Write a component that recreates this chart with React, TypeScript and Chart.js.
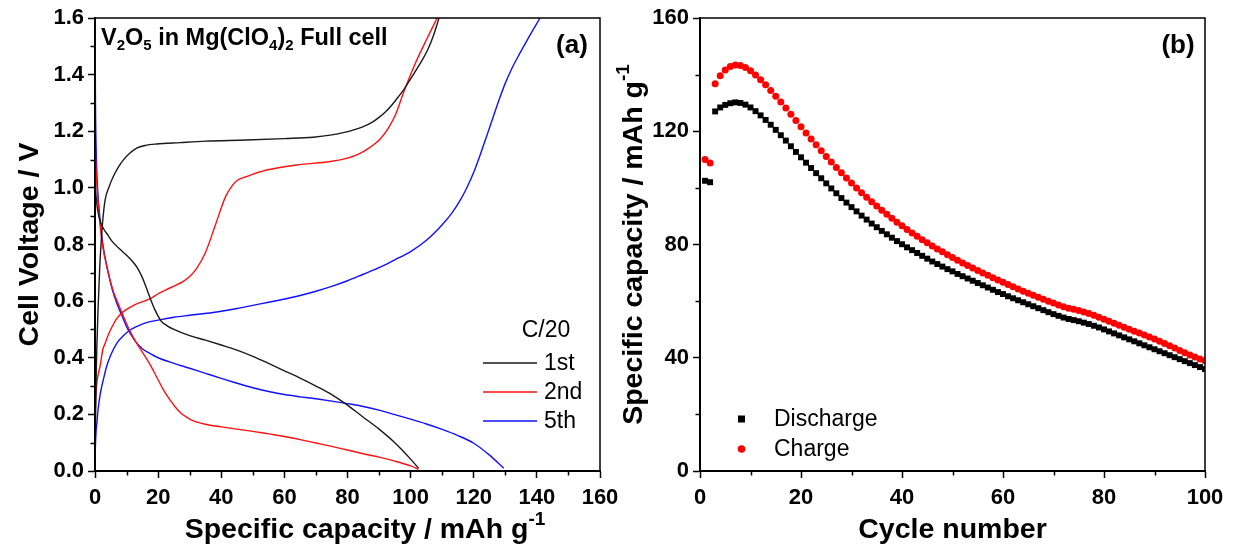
import React, { useEffect, useRef } from "react";
import { Chart, registerables } from "chart.js";

Chart.register(...registerables);

const FONT = '"Liberation Sans", Arial, Helvetica, sans-serif';

// ---------- Panel (a): voltage profiles  [capacity mAh/g, voltage V] ----------
const cycle1Charge: [number, number][] = [
  [0, 0.02], [0.2, 0.2], [0.4, 0.35], [1, 0.58], [1.5, 0.72], [2, 0.816], [2.5, 0.89], [3.2, 0.957],
  [4.5, 1.005], [5.8, 1.04], [7.5, 1.075], [9, 1.099], [11, 1.122], [13.2, 1.14], [16, 1.15],
  [19.5, 1.155], [26.9, 1.16], [35, 1.165], [48, 1.169], [60, 1.174], [69.2, 1.179], [75, 1.187],
  [79, 1.196], [82, 1.205], [85, 1.216], [88, 1.233], [90, 1.249], [92, 1.268], [94, 1.292],
  [96, 1.32], [98, 1.35], [100, 1.385], [102.8, 1.435], [105.3, 1.485], [107.3, 1.54], [109, 1.6],
];
const cycle1Discharge: [number, number][] = [
  [0, 1.02], [0.5, 0.95], [1.2, 0.9], [2.5, 0.86], [4, 0.835], [5.5, 0.81], [8, 0.782], [10.5, 0.757],
  [12.5, 0.732], [13.7, 0.712], [15, 0.683], [16, 0.655], [17, 0.625], [18, 0.595], [19, 0.569],
  [20, 0.547], [21, 0.529], [23, 0.512], [25, 0.5], [30, 0.478], [35, 0.462], [40, 0.445],
  [45, 0.427], [50, 0.405], [55, 0.38], [60, 0.354], [65, 0.328], [70, 0.3], [75, 0.27],
  [79.2, 0.239], [85, 0.19], [90, 0.148], [95, 0.1], [100, 0.042], [102.5, 0.01],
];
const cycle2Charge: [number, number][] = [
  [0, 0.15], [0.1, 0.215], [0.5, 0.3], [1, 0.34], [1.6, 0.37], [2.5, 0.43], [3.2, 0.45], [4, 0.475],
  [5.2, 0.505], [7, 0.54], [9, 0.563], [11, 0.577], [13.2, 0.59], [17.4, 0.608], [20, 0.626],
  [22.5, 0.64], [25, 0.653], [28, 0.67], [30, 0.687], [32, 0.712], [35, 0.772], [38.2, 0.871],
  [41.4, 0.97], [43.5, 1.008], [45, 1.026], [48, 1.04], [54.4, 1.063], [63.9, 1.081], [74.5, 1.093],
  [80, 1.105], [84, 1.122], [87, 1.142], [90.3, 1.172], [93, 1.212], [95.2, 1.258], [97.7, 1.335],
  [101.5, 1.44], [105.3, 1.53], [108.4, 1.6],
];
const cycle2Discharge: [number, number][] = [
  [0, 1.15], [0.4, 1.05], [0.9, 0.96], [1.6, 0.87], [2.5, 0.79], [4, 0.71], [5.5, 0.645], [7, 0.6],
  [8.5, 0.56], [10, 0.52], [11.5, 0.485], [13, 0.455], [15, 0.42], [17.5, 0.375], [19.5, 0.333],
  [21.5, 0.29], [23.8, 0.25], [25.5, 0.225], [27, 0.207], [29, 0.19], [31, 0.178], [35, 0.165],
  [40, 0.156], [45, 0.148], [50, 0.14], [55, 0.131], [60, 0.122], [65, 0.111], [70, 0.099],
  [75, 0.087], [80, 0.074], [85, 0.061], [90, 0.049], [95, 0.035], [100, 0.018], [102.5, 0.006],
];
const cycle5Charge: [number, number][] = [
  [0, 0.05], [0.3, 0.133], [0.6, 0.17], [1, 0.22], [1.8, 0.28], [2.8, 0.33], [3.7, 0.37], [5, 0.41],
  [6.9, 0.451], [9, 0.478], [11.1, 0.498], [13.5, 0.512], [16.3, 0.524], [20, 0.533], [25, 0.543],
  [30, 0.55], [37.4, 0.56], [45, 0.574], [50, 0.585], [58.6, 0.604], [65, 0.62], [70, 0.635],
  [75, 0.652], [80, 0.672], [85, 0.695], [90, 0.718], [95, 0.746], [100, 0.775], [105, 0.815],
  [110, 0.87], [113, 0.91], [116, 0.962], [118, 1.005], [120, 1.055], [122, 1.115], [124, 1.18],
  [126, 1.245], [128, 1.31], [130, 1.37], [132, 1.42], [134, 1.463], [136, 1.503], [138, 1.543],
  [141, 1.6],
];
const cycle5Discharge: [number, number][] = [
  [0, 1.6], [0.15, 1.3], [0.4, 1.12], [0.8, 1.0], [1.5, 0.9], [2.5, 0.8], [4, 0.71], [5.5, 0.64],
  [7, 0.59], [8.5, 0.55], [10, 0.51], [11.5, 0.48], [13, 0.455], [15, 0.432], [17, 0.418], [20, 0.4],
  [25, 0.38], [30, 0.363], [35, 0.345], [40, 0.327], [45, 0.31], [50, 0.294], [55, 0.281], [60, 0.27],
  [65, 0.262], [70, 0.255], [75, 0.247], [80, 0.238], [85, 0.228], [90, 0.215], [95, 0.199],
  [100, 0.183], [105, 0.166], [110, 0.147], [115, 0.125], [120, 0.098], [125, 0.056], [129.5, 0.01],
];

const cycleLabels = ["1st", "2nd", "5th"];
const cycleColors = ["#1a1a1a", "#ff1010", "#1010ff"];

const capTicksMajor = [0, 20, 40, 60, 80, 100, 120, 140, 160];
const capTicksMinor = [10, 30, 50, 70, 90, 110, 130, 150];
const voltTicksMajor = [0, 0.2, 0.4, 0.6, 0.8, 1.0, 1.2, 1.4, 1.6];
const voltTicksMinor = [0.1, 0.3, 0.5, 0.7, 0.9, 1.1, 1.3, 1.5];

// ---------- Panel (b): cycling  ----------
const cycleNumbers = Array.from({ length: 100 }, (_, i) => i + 1);
const dischargeCapacity = [
  102.5, 102.0, 127.0, 128.4, 129.3, 129.9, 130.2, 130.0, 129.4, 128.4,
  127.1, 125.6, 124.0, 122.3, 120.5, 118.6, 116.7, 114.7, 112.7, 110.8,
  108.9, 107.0, 105.2, 103.4, 101.6, 99.8, 98.1, 96.4, 94.8, 93.2,
  91.7, 90.2, 88.8, 87.4, 86.1, 84.8, 83.6, 82.4, 81.2, 80.1,
  79.0, 78.0, 77.0, 76.0, 75.0, 74.0, 73.1, 72.2, 71.3, 70.5,
  69.6, 68.8, 68.0, 67.2, 66.4, 65.6, 64.8, 64.0, 63.2, 62.5,
  61.7, 61.0, 60.3, 59.6, 58.9, 58.2, 57.5, 56.8, 56.1, 55.4,
  54.8, 54.2, 53.7, 53.3, 52.9, 52.4, 51.9, 51.3, 50.7, 50.0,
  49.3, 48.6, 47.9, 47.2, 46.5, 45.8, 45.1, 44.4, 43.7, 43.0,
  42.3, 41.6, 40.9, 40.2, 39.5, 38.8, 38.1, 37.4, 36.7, 36.0,
];
const chargeCapacity = [
  110.0, 108.8, 136.8, 139.6, 141.6, 142.9, 143.4, 143.2, 142.5, 141.4,
  139.9, 138.2, 136.4, 134.4, 132.4, 130.3, 128.2, 126.0, 123.8, 121.6,
  119.4, 117.3, 115.2, 113.1, 111.1, 109.1, 107.2, 105.3, 103.5, 101.7,
  100.0, 98.3, 96.7, 95.1, 93.6, 92.1, 90.7, 89.3, 87.9, 86.6,
  85.3, 84.1, 82.9, 81.7, 80.6, 79.5, 78.4, 77.4, 76.4, 75.4,
  74.4, 73.5, 72.6, 71.7, 70.8, 69.9, 69.1, 68.3, 67.5, 66.7,
  65.9, 65.1, 64.3, 63.5, 62.8, 62.1, 61.4, 60.7, 60.0, 59.3,
  58.6, 58.0, 57.5, 57.1, 56.7, 56.2, 55.6, 55.0, 54.3, 53.6,
  52.9, 52.2, 51.5, 50.8, 50.1, 49.4, 48.7, 48.0, 47.3, 46.6,
  45.8, 45.0, 44.2, 43.4, 42.6, 41.8, 41.0, 40.3, 39.6, 38.9,
];
const cycTicksMajor = [0, 20, 40, 60, 80, 100];
const cycTicksMinor = [10, 30, 50, 70, 90];
const capYTicksMajor = [0, 40, 80, 120, 160];
const capYTicksMinor = [20, 60, 100, 140];

type Part = { t: string; sub?: boolean; sup?: boolean };

function drawRich(
  ctx: CanvasRenderingContext2D,
  parts: Part[],
  x: number,
  y: number,
  size: number,
  weight: string,
  align: "left" | "center",
  rotate = 0
) {
  ctx.save();
  ctx.translate(x, y);
  if (rotate) ctx.rotate(rotate);
  ctx.fillStyle = "#000";
  ctx.textBaseline = "alphabetic";
  ctx.textAlign = "left";
  const fontFor = (p: Part) => `${weight} ${p.sub || p.sup ? Math.round(size * 0.65) : size}px ${FONT}`;
  let total = 0;
  for (const p of parts) {
    ctx.font = fontFor(p);
    total += ctx.measureText(p.t).width;
  }
  let cx = align === "center" ? -total / 2 : 0;
  for (const p of parts) {
    ctx.font = fontFor(p);
    const dy = p.sub ? size * 0.22 : p.sup ? -size * 0.45 : 0;
    ctx.fillText(p.t, cx, dy);
    cx += ctx.measureText(p.t).width;
  }
  ctx.restore();
}

function tickLine(ctx: CanvasRenderingContext2D, x1: number, y1: number, x2: number, y2: number) {
  ctx.beginPath();
  ctx.moveTo(x1, y1);
  ctx.lineTo(x2, y2);
  ctx.stroke();
}

function makeAxes(xMin: number, xMax: number, xTicks: number[], yMin: number, yMax: number, yTicks: number[], yFmt: (v: number) => string, yWidth: number) {
  const common = {
    type: "linear" as const,
    grid: { drawOnChartArea: false, drawTicks: true, tickLength: 7, tickColor: "#000", tickWidth: 1.5 },
    border: { display: true, color: "#000", width: 2 },
  };
  return {
    x: {
      ...common,
      min: xMin,
      max: xMax,
      afterBuildTicks: (s: any) => {
        s.ticks = xTicks.map((v) => ({ value: v }));
      },
      ticks: {
        autoSkip: false,
        maxRotation: 0,
        padding: 7,
        color: "#000",
        font: { family: FONT, size: 22, weight: "bold" as const },
        callback: (v: any) => String(v),
      },
      afterFit: (s: any) => {
        s.height = 79;
        s.paddingLeft = 0;
        s.paddingRight = 0;
      },
    },
    y: {
      ...common,
      min: yMin,
      max: yMax,
      afterBuildTicks: (s: any) => {
        s.ticks = yTicks.map((v) => ({ value: v }));
      },
      ticks: {
        autoSkip: false,
        padding: 4,
        color: "#000",
        font: { family: FONT, size: 22, weight: "bold" as const },
        callback: (v: any) => yFmt(Number(v)),
      },
      afterFit: (s: any) => {
        s.width = yWidth;
        s.paddingTop = 0;
        s.paddingBottom = 0;
      },
    },
  };
}

function framePlugin(xMinor: number[], yMinor: number[]) {
  return {
    id: "frameMinor",
    afterDraw(chart: any) {
      const { ctx, chartArea } = chart;
      const xs = chart.scales.x;
      const ys = chart.scales.y;
      ctx.save();
      ctx.strokeStyle = "#000";
      ctx.lineWidth = 1.5;
      ctx.strokeRect(chartArea.left, chartArea.top, chartArea.right - chartArea.left, chartArea.bottom - chartArea.top);
      for (const v of xMinor) {
        const px = Math.round(xs.getPixelForValue(v)) + 0.5;
        tickLine(ctx, px, chartArea.bottom, px, chartArea.bottom + 4.5);
      }
      for (const v of yMinor) {
        const py = Math.round(ys.getPixelForValue(v)) + 0.5;
        tickLine(ctx, chartArea.left, py, chartArea.left - 4.5, py);
      }
      ctx.restore();
    },
  };
}

const capTitle: Part[] = [{ t: "Specific capacity / mAh g" }, { t: "-1", sup: true }];

function LeftChart() {
  const ref = useRef<HTMLCanvasElement>(null);
  useEffect(() => {
    const curves = [
      [cycle1Charge, cycle1Discharge],
      [cycle2Charge, cycle2Discharge],
      [cycle5Charge, cycle5Discharge],
    ];
    const datasets: any[] = [];
    curves.forEach((pair, i) => {
      pair.forEach((pts, j) => {
        datasets.push({
          label: cycleLabels[i] + (j === 0 ? " charge" : " discharge"),
          data: pts.map(([x, y]) => ({ x, y })),
          showLine: true,
          borderColor: cycleColors[i],
          borderWidth: 1.4,
          pointRadius: 0,
          cubicInterpolationMode: "monotone",
          fill: false,
        });
      });
    });
    const texts = {
      id: "textsA",
      afterDraw(chart: any) {
        const { ctx, chartArea } = chart;
        const L = chartArea.left;
        const T = chartArea.top;
        drawRich(ctx, [{ t: "Cell Voltage / V" }], 38, (chartArea.top + chartArea.bottom) / 2, 28.5, "bold", "center", -Math.PI / 2);
        drawRich(ctx, capTitle, 365, 538, 28.5, "bold", "center");
        drawRich(
          ctx,
          [
            { t: "V" }, { t: "2", sub: true }, { t: "O" }, { t: "5", sub: true }, { t: " in Mg(ClO" },
            { t: "4", sub: true }, { t: ")" }, { t: "2", sub: true }, { t: " Full cell" },
          ],
          L + 6, T + 27, 23.5, "bold", "left"
        );
        drawRich(ctx, [{ t: "(a)" }], chartArea.right - 28, T + 35, 26, "bold", "center");
        // legend
        ctx.save();
        ctx.font = `23px ${FONT}`;
        ctx.fillStyle = "#000";
        ctx.textBaseline = "middle";
        ctx.textAlign = "center";
        ctx.fillText("C/20", 546, 331);
        ctx.textAlign = "left";
        const ys = [363, 392, 421];
        cycleLabels.forEach((lab, i) => {
          ctx.strokeStyle = cycleColors[i];
          ctx.lineWidth = 1.6;
          tickLine(ctx, 483, ys[i], 537, ys[i]);
          ctx.fillText(lab, 544, ys[i] + 1);
        });
        ctx.restore();
      },
    };
    const chart = new Chart(ref.current!, {
      type: "scatter",
      data: { datasets },
      options: {
        animation: false,
        responsive: false,
        layout: { padding: { top: 18, right: 40, left: 0, bottom: 0 } },
        plugins: { legend: { display: false }, tooltip: { enabled: false } },
        scales: makeAxes(0, 160, capTicksMajor, 0, 1.6, voltTicksMajor, (v) => v.toFixed(1), 95) as any,
      },
      plugins: [framePlugin(capTicksMinor, voltTicksMinor), texts],
    });
    return () => chart.destroy();
  }, []);
  return <canvas ref={ref} width={640} height={550} style={{ position: "absolute", left: 0, top: 0, width: 640, height: 550 }} />;
}

function RightChart() {
  const ref = useRef<HTMLCanvasElement>(null);
  useEffect(() => {
    const texts = {
      id: "textsB",
      afterDraw(chart: any) {
        const { ctx, chartArea } = chart;
        drawRich(ctx, capTitle, 32, (chartArea.top + chartArea.bottom) / 2, 28.5, "bold", "center", -Math.PI / 2);
        drawRich(ctx, [{ t: "Cycle number" }], (chartArea.left + chartArea.right) / 2, 538, 28.5, "bold", "center");
        drawRich(ctx, [{ t: "(b)" }], chartArea.right - 27, chartArea.top + 35, 26, "bold", "center");
        ctx.save();
        ctx.font = `23px ${FONT}`;
        ctx.textBaseline = "middle";
        ctx.textAlign = "left";
        const lx = chartArea.left + 41.5;
        ctx.fillStyle = "#000";
        ctx.fillRect(lx - 3.5, 419 - 3.5, 7, 7);
        ctx.fillText("Discharge", chartArea.left + 74, 420);
        ctx.fillStyle = "#ff0000";
        ctx.beginPath();
        ctx.arc(lx, 449, 3.8, 0, Math.PI * 2);
        ctx.fill();
        ctx.fillStyle = "#000";
        ctx.fillText("Charge", chartArea.left + 74, 450);
        ctx.restore();
      },
    };
    const chart = new Chart(ref.current!, {
      type: "scatter",
      data: {
        datasets: [
          {
            label: "Discharge",
            data: cycleNumbers.map((c, i) => ({ x: c, y: dischargeCapacity[i] })),
            pointStyle: "rect",
            pointRadius: 4.2,
            pointBackgroundColor: "#000",
            pointBorderWidth: 0,
            borderWidth: 0,
          },
          {
            label: "Charge",
            data: cycleNumbers.map((c, i) => ({ x: c, y: chargeCapacity[i] })),
            pointStyle: "circle",
            pointRadius: 3.5,
            pointBackgroundColor: "#ff0000",
            pointBorderWidth: 0,
            borderWidth: 0,
          },
        ],
      },
      options: {
        animation: false,
        responsive: false,
        layout: { padding: { top: 18, right: 29, left: 0, bottom: 0 } },
        plugins: { legend: { display: false }, tooltip: { enabled: false } },
        scales: makeAxes(0, 100, cycTicksMajor, 0, 160, capYTicksMajor, (v) => String(v), 90) as any,
      },
      plugins: [framePlugin(cycTicksMinor, capYTicksMinor), texts],
    });
    return () => chart.destroy();
  }, []);
  return <canvas ref={ref} width={624} height={550} style={{ position: "absolute", left: 610, top: 0, width: 624, height: 550 }} />;
}

export default function App() {
  useEffect(() => {
    document.body.style.margin = "0";
  }, []);
  return (
    <div style={{ position: "fixed", left: 0, top: 0, width: 1234, height: 550, background: "#fff", overflow: "hidden" }}>
      <LeftChart />
      <RightChart />
    </div>
  );
}
